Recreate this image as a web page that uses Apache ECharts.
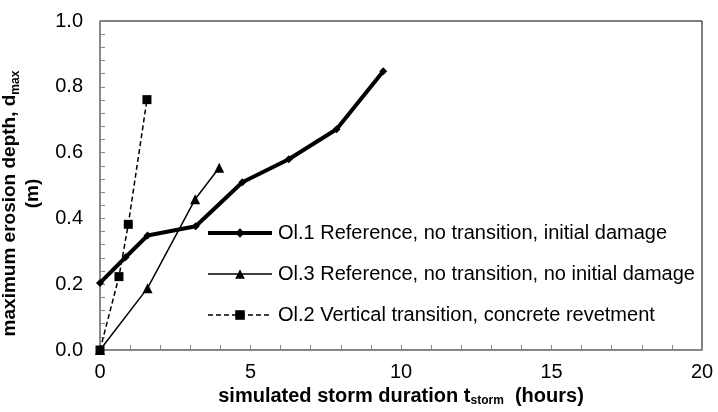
<!DOCTYPE html>
<html><head><meta charset="utf-8">
<script src="https://cdn.jsdelivr.net/npm/echarts@6/dist/echarts.min.js"></script>
<style>html,body{margin:0;padding:0;background:#fff}#c{width:718px;height:412px}</style>
</head><body><div id="c"></div>
<script>
const seriesNames = [
  'Ol.1 Reference, no transition, initial damage',
  'Ol.3 Reference, no transition, no initial damage',
  'Ol.2 Vertical transition, concrete revetment'
];
const ol1X = [0, 0.85, 1.58, 3.18, 4.73, 6.27, 7.86, 9.41];
const ol1Y = [0.204, 0.282, 0.348, 0.376, 0.510, 0.580, 0.671, 0.847];
const ol3X = [0, 1.58, 3.16, 3.96];
const ol3Y = [0, 0.188, 0.458, 0.554];
const ol2X = [0, 0.63, 0.94, 1.56];
const ol2Y = [0, 0.223, 0.382, 0.761];
const xTicks = [0, 5, 10, 15, 20];
const yTicks = [0, 0.2, 0.4, 0.6, 0.8, 1.0];

const pair = (xs, ys) => xs.map((x, i) => [x, ys[i]]);
const FONT = 'Liberation Sans, Arial, sans-serif';
const chart = echarts.init(document.getElementById('c'));
chart.setOption({
  animation: false,
  backgroundColor: '#fff',
  textStyle: { fontFamily: FONT, color: '#000' },
  grid: { left: 100, right: 16, top: 21, bottom: 62, show: true, borderColor: '#000', borderWidth: 1,
          containLabel: false, outerBoundsMode: 'none' },
  legend: {
    orient: 'vertical', left: 206, top: 223, padding: 0, itemGap: 21, itemWidth: 64, itemHeight: 12,
    textStyle: { fontFamily: FONT, fontSize: 20, color: '#000', padding: [0, 0, 0, 1] },
    data: [
      { name: seriesNames[0], lineStyle: { width: 4, color: '#000' } },
      { name: seriesNames[1], lineStyle: { width: 1.5, color: '#000' } },
      { name: seriesNames[2], lineStyle: { width: 1.5, color: '#000', type: [5, 3] } }
    ]
  },
  xAxis: {
    type: 'value', min: xTicks[0], max: xTicks[xTicks.length - 1], interval: 5,
    axisLine: { lineStyle: { color: '#888', width: 2 } },
    axisTick: { inside: true, length: 5, lineStyle: { color: '#888', width: 1 } },
    minorTick: { show: true, splitNumber: 5, length: 5, lineStyle: { color: '#888', width: 1 } },
    splitLine: { show: false },
    axisLabel: { fontSize: 20, color: '#000', margin: 12 },
    name: '{b|simulated storm duration t}{s|storm}{b|  (hours)}',
    nameLocation: 'middle', nameGap: 35,
    nameTextStyle: {
      rich: {
        b: { fontSize: 20, fontWeight: 'bold', fontFamily: FONT, color: '#000' },
        s: { fontSize: 12, fontWeight: 'bold', fontFamily: FONT, color: '#000', verticalAlign: 'bottom', padding: [7, 0, 0, 0] }
      }
    }
  },
  yAxis: {
    type: 'value', min: yTicks[0], max: yTicks[yTicks.length - 1], interval: 0.2,
    axisLine: { lineStyle: { color: '#888', width: 2 } },
    axisTick: { inside: true, length: 5, lineStyle: { color: '#888', width: 1 } },
    minorTick: { show: true, splitNumber: 5, length: 5, lineStyle: { color: '#888', width: 1 } },
    splitLine: { show: false },
    axisLabel: { fontSize: 20, color: '#000', margin: 17, formatter: v => v.toFixed(1) },
    name: '{b|maximum erosion depth, d}{s|max}\n{m|(m)}',
    nameLocation: 'middle', nameGap: 48, nameRotate: 90,
    nameTextStyle: {
      lineHeight: 23,
      padding: [0, 36, 0, 0],
      rich: {
        b: { fontSize: 19, fontWeight: 'bold', fontFamily: FONT, color: '#000', lineHeight: 23 },
        m: { fontSize: 19, fontWeight: 'bold', fontFamily: FONT, color: '#000', lineHeight: 23, padding: [0, 0, 0, 20] },
        s: { fontSize: 12, fontWeight: 'bold', fontFamily: FONT, color: '#000', verticalAlign: 'bottom', padding: [7, 0, 0, 0], lineHeight: 23 }
      }
    }
  },
  series: [
    { name: seriesNames[0], type: 'line', data: pair(ol1X, ol1Y), clip: false,
      symbol: 'diamond', symbolSize: 8, color: '#000',
      lineStyle: { color: '#000', width: 4 }, itemStyle: { color: '#000' } },
    { name: seriesNames[1], type: 'line', data: pair(ol3X, ol3Y), clip: false,
      symbol: 'triangle', symbolSize: 10, color: '#000',
      lineStyle: { color: '#000', width: 1.5 }, itemStyle: { color: '#000' } },
    { name: seriesNames[2], type: 'line', data: pair(ol2X, ol2Y), clip: false,
      symbol: 'rect', symbolSize: 9, color: '#000',
      lineStyle: { color: '#000', width: 1.5, type: [5, 3] }, itemStyle: { color: '#000' } }
  ]
});
</script></body></html>
